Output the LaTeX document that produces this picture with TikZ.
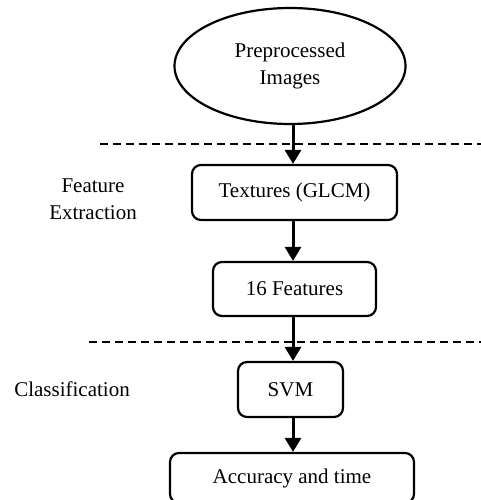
\documentclass[tikz,border=0pt]{standalone}
\usepackage{fontspec}
\setmainfont{Liberation Serif}
\usetikzlibrary{shapes.geometric,arrows.meta}
\begin{document}
\begin{tikzpicture}[x=1pt,y=-1pt,
  every node/.style={font=\fontsize{21}{27}\selectfont, align=center, inner sep=0pt},
  stepbox/.style={draw, line width=2.2pt, rounded corners=9pt},
  ellbox/.style={draw, ellipse, line width=2.2pt},
  arr/.style={line width=3pt, -{Triangle[width=16pt,length=14pt]}},
  sep/.style={line width=2pt, dash pattern=on 8pt off 5pt}]
\useasboundingbox (0,0) rectangle (481,500);
\node[ellbox, minimum width=231pt, minimum height=116pt] (ell) at (290,66) {Preprocessed\\Images};
\node[stepbox, minimum width=205pt, minimum height=55pt] (tex) at (294.5,192.5) {Textures (GLCM)};
\node[stepbox, minimum width=163pt, minimum height=54pt] (feat) at (294.5,289) {16 Features};
\node[stepbox, minimum width=105pt, minimum height=55pt] (svm) at (290.5,389.5) {SVM};
\node[stepbox, minimum width=244pt, minimum height=50pt] (acc) at (292,478) {Accuracy and time};
\node (lfe) at (93,199) {Feature\\Extraction};
\node (lcl) at (72,389) {Classification};
\coordinate (X) at (293,0);
\coordinate (d1a) at (100,144);
\coordinate (d1b) at (481,144);
\coordinate (d2a) at (89,342);
\coordinate (d2b) at (481,342);
\draw[sep] (d1a) -- (d1b);
\draw[sep] (d2a) -- (d2b);
\draw[arr] (ell.south -| X) -- (tex.north -| X);
\draw[arr] (tex.south -| X) -- (feat.north -| X);
\draw[arr] (feat.south -| X) -- (svm.north -| X);
\draw[arr] (svm.south -| X) -- (acc.north -| X);
\end{tikzpicture}
\end{document}
